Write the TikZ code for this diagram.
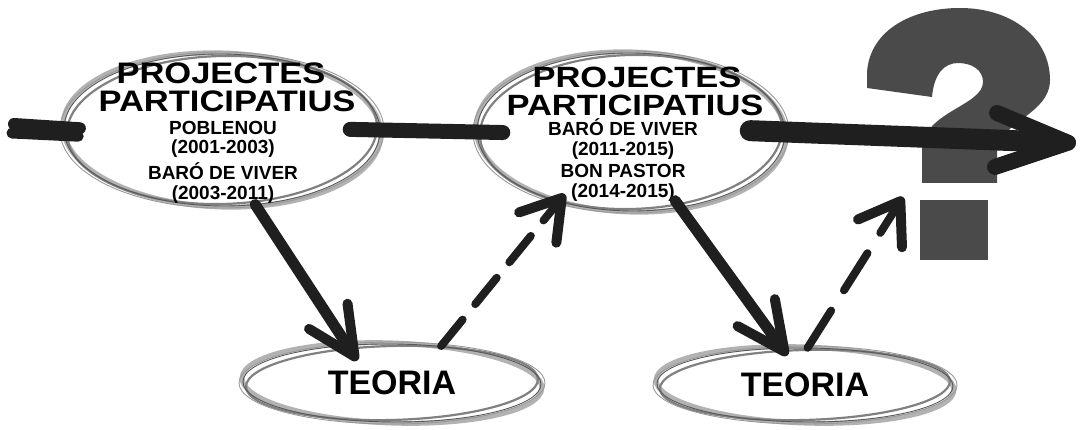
\documentclass[tikz,border=0pt]{standalone}
\usepackage{graphicx}
\usepackage{fontspec}
\setmainfont{Liberation Sans}
\usetikzlibrary{shapes.geometric,arrows.meta}
\definecolor{qgray}{RGB}{74,74,74}
\newcommand\sketchell[3]{%
  \draw[pencilL, rotate around={-2:(#1.center)}] (#1.center) ellipse [x radius=#2pt+1pt, y radius=#3pt+1pt];
  \draw[pencil, rotate around={1.5:(#1.center)}] (#1.center) ellipse [x radius=#2pt-3pt, y radius=#3pt-2pt];
  \draw[pencilD, rotate around={-0.5:(#1.center)}] (#1.center) ellipse [x radius=#2pt, y radius=#3pt];
  \draw[pencilD, draw=black!40] (#1.center) ellipse [x radius=#2pt+4pt, y radius=#3pt+2pt];
}
\begin{document}
\begin{tikzpicture}[x=1pt,y=-1pt,
  pencil/.style={draw=black!50, line width=2.2pt},
  pencilL/.style={draw=black!30, line width=5pt},
  pencilD/.style={draw=black!65, line width=0.9pt},
  brush/.style={draw=black!88, line width=11pt, line cap=round},
  title/.style={font=\fontsize{34.5}{34.5}\selectfont\bfseries, inner sep=0pt, anchor=base},
  detail/.style={font=\fontsize{19}{19}\selectfont\bfseries, inner sep=0pt, anchor=base},
  bubble/.style={ellipse, inner sep=0pt},
]
\useasboundingbox (0,0) rectangle (1081,430);

% ellipses
\node[bubble, minimum width=316pt, minimum height=152pt] (p1) at (222,130) {};
\node[bubble, minimum width=308pt, minimum height=158pt] (p2) at (631,132) {};
\node[bubble, minimum width=298pt, minimum height=78pt, font=\fontsize{34}{34}\selectfont\bfseries] (t1) at (392,383) {TEORIA};
\node[bubble, minimum width=296pt, minimum height=74pt, font=\fontsize{34}{34}\selectfont\bfseries] (t2) at (805,385) {TEORIA};
\sketchell{p1}{158}{76}
\sketchell{p2}{154}{79}
\sketchell{t1}{149}{39}
\sketchell{t2}{148}{37}

% texts
\node[title] (p1a) at (221,84) {\scalebox{1}[0.86]{PROJECTES}};
\node[title] (p1b) at (227,112) {\scalebox{1}[0.86]{PARTICIPATIUS}};
\node[detail] (p1c) at (223,135) {POBLENOU};
\node[detail] (p1d) at (223,154) {(2001-2003)};
\node[detail] (p1e) at (223,180) {BARÓ DE VIVER};
\node[detail] (p1f) at (223,200) {(2003-2011)};

\node[title] (p2a) at (637,88) {\scalebox{1}[0.85]{PROJECTES}};
\node[title] (p2b) at (635,116) {\scalebox{1}[0.85]{PARTICIPATIUS}};
\node[detail] (p2c) at (623,136) {BARÓ DE VIVER};
\node[detail] (p2d) at (623,156) {(2011-2015)};
\node[detail] (p2e) at (623,178) {BON PASTOR};
\node[detail] (p2f) at (623,198) {(2014-2015)};

% question mark
\fill[qgray] (867,88) -- (867,72) .. controls (870,30) and (912,8) .. (960,8)
  .. controls (1012,8) and (1050,38) .. (1050,80)
  .. controls (1050,114) and (1000,122) .. (997,150) -- (997,183) -- (922,183) -- (922,150)
  .. controls (922,112) and (983,106) .. (983,82)
  .. controls (983,70) and (972,63) .. (958,63)
  .. controls (944,63) and (934,74) .. (932,97) -- cycle;
\node[fill=qgray, minimum width=68pt, minimum height=60pt, inner sep=0pt] (qdot) at (954,230) {};

% connectors
\coordinate (ls1) at (14,124);
\coordinate (ls2) at (12,133);
\coordinate (oend) at (1076,143);
\coordinate (qtip) at (903,197);

\draw[brush, line width=12pt, shorten >=-16pt] (ls1) -- (p1.179);
\draw[brush, line width=11pt, shorten >=-14pt] (ls2) -- (p1.182);
\draw[brush, line width=15pt, shorten <=-30pt, shorten >=-26pt] (p1.east) -- (p2.west);
\draw[brush, line width=21pt, shorten <=-35pt,
  -{Straight Barb[length=72pt, width=54pt, line width=16pt, round]}] (p2.east) -- (oend);

\draw[brush, line width=11pt, shorten >=-18pt,
  -{Straight Barb[length=48pt, width=46pt, line width=10pt, round]}] (p1.-66) -- (t1.140);
\draw[brush, line width=11pt, shorten <=-8pt, shorten >=-9pt,
  -{Straight Barb[length=48pt, width=46pt, line width=10pt, round]}] (p2.-57) -- (t2.122);

\draw[brush, line width=8pt, dash pattern=on 34pt off 20pt, shorten >=-10pt,
  -{Straight Barb[length=38pt, width=48pt, line width=10pt, round]}] (t1.37) -- (p2.-136);
\draw[brush, line width=8pt, dash pattern=on 44pt off 24pt,
  -{Straight Barb[length=38pt, width=52pt, line width=10pt, round]}] (t2.86) -- (qtip);
\end{tikzpicture}
\end{document}
